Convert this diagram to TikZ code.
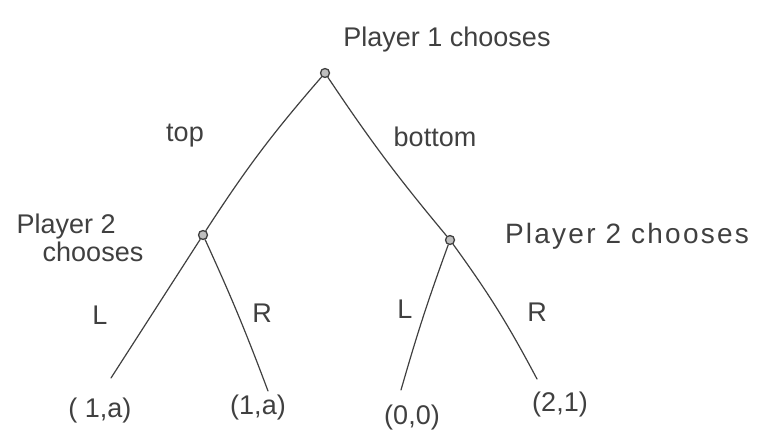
\documentclass[tikz,border=0pt]{standalone}
\usepackage{fontspec}
\setmainfont{Liberation Sans}
\begin{document}
\begin{tikzpicture}[x=1pt,y=-1pt,
  ink/.style={draw=black!75, line width=1.2pt, line cap=round},
  dec/.style={circle, draw=black!75, line width=1.3pt, fill=black!25, inner sep=0pt, minimum size=9pt},
  hand/.style={text=black!75, font=\fontsize{27}{30}\selectfont, inner sep=1pt},
  lab/.style={hand, align=left}]
\useasboundingbox (0,0) rectangle (784,444);
\node[dec] (r) at (325,73) {};
\node[dec] (a) at (203,235) {};
\node[dec] (b) at (450,240) {};
\coordinate (aL) at (111,378);
\coordinate (aR) at (268,391);
\coordinate (bL) at (401,390);
\coordinate (bR) at (537,379);
\draw[ink] (r) to[bend right=4] (a);
\draw[ink] (r) to[bend right=3] (b);
\draw[ink] (a) -- (aL);
\draw[ink] (a) to[bend left=2] (aR);
\draw[ink] (b) to[bend right=2] (bL);
\draw[ink] (b) to[bend left=4] (bR);
\node[hand] (t1) at (447,40) {Player 1 chooses};
\node[hand] (e1) at (185,136) {top};
\node[hand] (e2) at (435,137) {bottom};
\node[lab] (t2) at (80,238) {Player 2\\[-2pt]\hspace*{26pt}chooses};
\node[hand, font=\fontsize{28}{32}\selectfont\addfontfeature{LetterSpace=8}] (t3) at (627,236) {Player 2 chooses};
\node[hand] (l1) at (100,315) {L};
\node[hand] (l2) at (262,313) {R};
\node[hand] (l3) at (405,309) {L};
\node[hand] (l4) at (537,312) {R};
\node[hand] (p1) at (100,411) {( 1,a)};
\node[hand] (p2) at (258,408) {(1,a)};
\node[hand] (p3) at (412,418) {(0,0)};
\node[hand] (p4) at (560,405) {(2,1)};
\end{tikzpicture}
\end{document}
